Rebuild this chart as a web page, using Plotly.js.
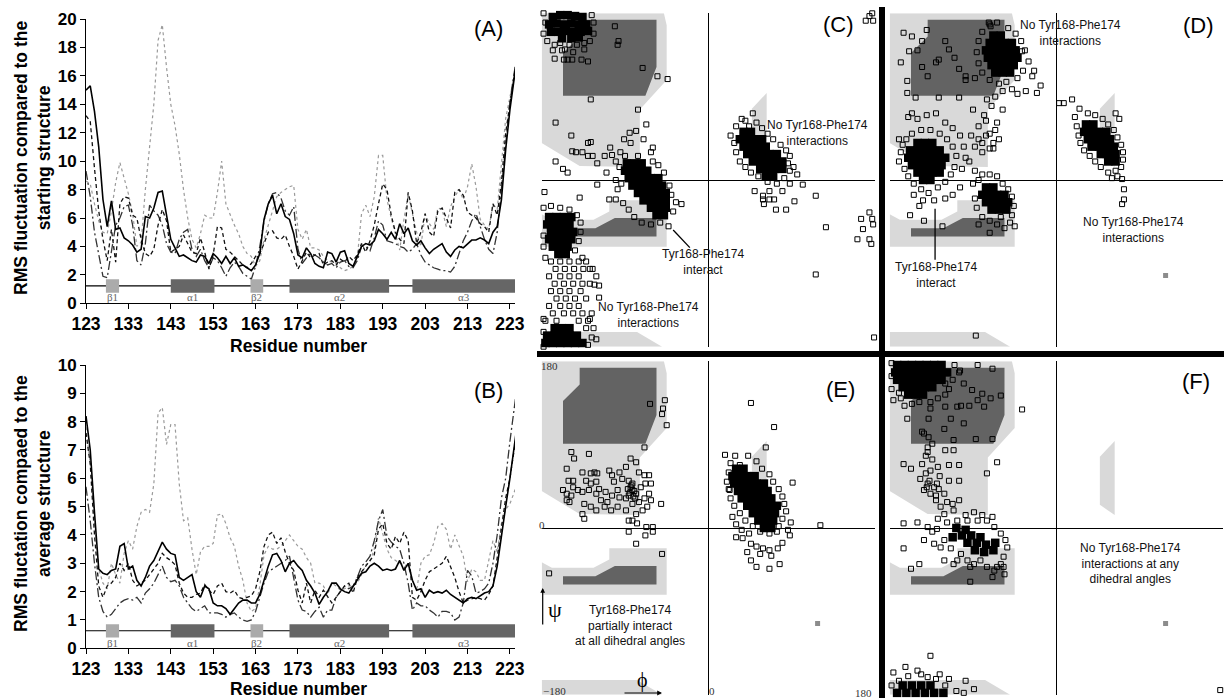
<!DOCTYPE html>
<html><head><meta charset="utf-8">
<script src="https://cdn.plot.ly/plotly-3.0.1.min.js"></script>
<style>html,body{margin:0;padding:0;background:#fff}#chart{width:1224px;height:698px}</style>
</head><body><div id="chart"></div>
<script>
// ---------- Panels A/B : RMS fluctuation per residue ----------
const residues = [123,124,125,126,127,128,129,130,131,132,133,134,135,136,137,138,139,140,141,142,143,144,145,146,147,148,149,150,151,152,153,154,155,156,157,158,159,160,161,162,163,164,165,166,167,168,169,170,171,172,173,174,175,176,177,178,179,180,181,182,183,184,185,186,187,188,189,190,191,192,193,194,195,196,197,198,199,200,201,202,203,204,205,206,207,208,209,210,211,212,213,214,215,216,217,218,219,220,221,222,223,224,225];
const xTicks = [123,133,143,153,163,173,183,193,203,213,223];

const startSolid = [15.0,15.3,13.5,11.0,7.3,5.4,7.2,5.2,5.3,4.6,4.4,4.1,3.6,3.8,6.1,6.0,6.7,7.8,7.9,6.3,4.5,3.9,3.3,3.4,3.2,3.0,2.9,3.4,3.3,2.8,3.5,3.2,2.8,3.3,2.8,3.2,2.6,2.7,2.5,2.3,2.7,3.5,5.9,7.0,7.6,6.3,7.0,6.1,5.9,4.9,3.4,3.2,3.9,3.5,2.8,2.6,2.5,3.6,3.5,2.9,3.6,3.7,2.8,2.6,3.3,4.0,4.2,4.1,4.4,5.2,4.9,4.5,5.0,4.5,5.6,4.9,5.3,4.4,4.1,4.4,3.9,3.5,3.8,4.0,4.2,3.6,3.3,3.75,4.0,3.9,4.2,4.45,4.45,4.6,4.45,4.2,5.0,5.4,7.3,10.8,13.6,16.0,18.0];
const startDashed = [13.2,12.8,9.5,6.5,4.5,3.0,5.2,2.9,7.0,7.5,7.4,6.2,6.0,4.5,3.5,3.3,3.8,5.5,6.6,5.8,3.6,3.8,4.0,4.8,4.2,3.6,3.5,4.6,3.6,2.4,3.4,5.4,5.3,3.8,3.6,3.3,3.0,2.7,2.5,2.8,3.3,3.5,4.2,5.0,5.1,4.6,4.5,4.8,4.0,3.3,2.4,3.0,3.6,3.2,3.4,3.5,2.7,2.9,3.0,2.7,3.1,2.9,3.3,3.0,3.4,4.2,3.6,4.4,5.5,7.0,8.4,8.0,6.2,5.0,4.5,4.2,7.8,6.5,4.2,5.0,6.3,5.0,4.7,6.5,6.7,6.0,5.3,7.8,8.0,7.6,6.4,6.2,6.0,5.6,5.4,5.0,7.0,6.2,8.5,12.0,14.0,16.0,18.0];
const startDashDot = [9.3,7.5,5.0,3.5,1.9,1.8,3.8,5.5,6.0,6.8,6.9,5.5,3.0,2.7,4.2,6.9,6.5,6.2,5.5,4.2,3.6,3.5,4.5,5.0,5.2,3.8,3.3,3.8,3.0,2.5,3.2,3.0,2.5,1.9,2.5,2.9,2.6,2.1,1.9,1.7,2.6,4.0,5.8,7.0,7.7,7.8,7.4,6.5,6.2,6.8,3.8,2.8,3.2,3.5,3.4,3.2,2.9,2.7,2.8,2.5,2.9,3.0,2.6,2.5,3.0,4.0,4.0,3.7,4.6,5.8,5.5,4.4,4.3,4.2,4.0,3.9,3.6,3.8,4.2,3.4,2.9,2.7,2.5,2.4,2.3,2.3,2.2,2.6,3.5,4.4,5.0,5.8,6.3,5.4,4.5,3.8,3.5,5.0,8.0,11.5,14.2,16.2,18.0];
const startDotted = [8.6,8.4,7.0,5.8,5.0,4.9,6.5,8.5,9.9,8.8,7.7,6.3,4.0,4.3,8.0,11.0,14.0,18.5,19.6,16.6,14.0,12.5,10.5,8.0,6.0,4.5,3.9,4.9,6.2,6.0,6.0,7.8,10.0,7.0,6.2,5.5,4.9,4.0,3.5,3.3,2.6,3.0,4.5,5.6,6.5,7.5,7.8,8.0,8.2,8.3,5.2,4.5,5.2,3.9,3.9,3.75,3.3,3.0,2.9,2.8,2.5,2.3,2.4,2.6,3.2,6.3,6.9,6.1,7.5,10.4,10.4,7.3,6.0,4.9,3.75,5.9,7.7,6.3,5.0,4.0,6.3,5.6,5.2,6.7,6.6,5.4,6.8,7.5,8.0,7.3,8.2,9.8,8.2,5.9,5.5,5.2,7.0,6.6,10.0,13.0,14.5,16.0,17.5];

const avgSolid = [8.2,7.0,4.8,2.8,2.65,2.6,2.75,2.8,3.6,3.7,2.8,2.9,2.4,2.2,2.5,2.9,3.1,3.4,3.75,3.5,3.35,3.3,2.5,2.4,2.5,2.6,2.0,1.8,2.2,2.1,1.6,1.5,1.5,1.4,1.2,1.4,1.6,1.7,1.7,1.6,1.6,1.9,2.4,2.9,3.3,3.35,3.1,2.7,3.0,3.1,2.9,2.75,2.4,2.2,1.95,1.55,1.8,2.0,2.3,2.3,2.1,2.0,1.95,2.2,2.4,2.65,2.7,2.9,3.0,2.9,2.75,2.8,2.75,2.8,3.1,2.75,3.0,2.4,2.05,2.1,1.8,2.05,1.95,2.0,1.95,2.05,1.9,1.8,1.7,1.6,1.75,1.8,1.75,1.85,1.95,2.0,2.2,2.9,4.0,5.0,6.0,7.2,8.2];
const avgDashed = [7.6,6.5,4.0,2.2,1.8,2.2,2.3,2.5,3.0,2.75,3.0,2.4,2.2,2.3,2.4,2.6,2.8,3.0,3.35,3.2,3.1,2.95,2.3,1.95,1.8,1.8,1.9,1.95,2.25,2.05,1.9,2.2,2.3,2.0,1.95,2.05,1.8,1.75,1.8,1.85,2.1,2.7,3.6,4.0,4.1,3.7,3.9,3.4,3.0,2.75,2.05,1.6,2.3,1.6,2.05,1.8,2.05,1.8,1.6,1.8,2.0,2.2,2.3,1.95,2.5,2.7,2.9,3.1,3.3,4.2,4.4,3.7,3.5,3.95,3.7,4.1,3.8,1.8,1.7,2.0,2.4,2.7,2.8,2.9,3.0,3.25,2.9,2.5,2.0,1.6,1.7,1.75,1.8,1.75,1.7,1.9,2.2,3.2,4.3,5.3,6.0,7.0,8.0];
const avgDashDot = [5.7,4.5,3.0,1.8,1.3,1.1,1.2,1.4,1.6,1.7,1.75,1.7,1.8,1.6,1.95,2.1,2.3,2.6,2.9,2.5,2.35,2.4,2.2,1.8,1.6,1.4,1.3,1.4,1.5,1.25,1.25,1.25,1.2,1.1,1.2,1.25,1.1,1.0,0.95,1.0,1.3,1.8,2.3,2.7,2.8,2.9,3.0,3.1,3.25,2.4,1.7,1.35,1.3,1.1,1.3,1.45,1.1,1.35,1.35,1.8,2.0,2.2,2.1,2.2,2.5,2.9,3.05,3.25,3.8,4.5,4.9,3.95,3.75,3.6,3.5,3.0,2.3,1.35,1.6,1.5,1.5,1.35,1.25,1.1,1.3,1.3,1.25,1.0,1.1,1.6,2.75,2.55,1.95,2.0,2.1,2.3,3.0,4.0,5.3,6.0,7.3,8.5,9.6];
const avgDotted = [7.8,6.5,4.5,2.8,2.3,2.1,3.0,2.6,2.3,3.35,3.8,3.5,4.3,4.8,4.9,4.8,5.8,8.3,8.5,7.2,7.9,7.9,5.8,4.5,4.6,3.5,2.6,3.4,3.6,3.6,3.7,4.7,4.75,4.4,3.9,3.6,2.9,2.4,1.6,1.3,1.4,2.2,3.3,3.6,3.5,3.5,3.6,3.8,4.0,3.8,3.6,3.5,3.2,3.0,2.3,2.3,2.2,1.9,2.3,2.2,2.05,2.1,2.2,2.2,2.3,2.6,2.95,3.05,3.5,4.6,4.0,3.5,3.2,3.1,3.0,2.95,2.9,2.4,2.05,3.0,3.25,3.3,3.7,4.3,4.4,4.2,3.5,4.0,3.6,3.25,2.35,2.8,2.7,2.4,2.4,3.1,3.8,3.4,4.4,4.9,5.1,5.5,6.0];

// secondary structure elements
const ssLabels = ['\u03b21','\u03b11','\u03b22','\u03b12','\u03b13'];
const ssStart  = [127.7,143.0,161.8,171.0,200.0];
const ssEnd    = [130.8,153.3,164.8,194.5,224.2];
const ssType   = ['sheet','helix','sheet','helix','helix'];

// ---------- Ramachandran panels C-F (phi, psi in degrees) ----------
const light1Phi = [-180,-48,-45,-45,-74,-74,-139,-180];
const light1Psi = [180,180,167,108,76,14,15,40];
const dark1Phi  = [-139,-56,-56,-68,-157,-157,-139];
const dark1Psi  = [173,173,122,91,91,137,155];
const light2Phi = [-180,-169,-124,-107,-107,-45,-45,-180];
const light2Psi = [-37,-43,-43,-34,-22,-22,-72,-72];
const dark2Phi  = [-157,-157,-56,-56,-101,-122];
const dark2Psi  = [-52,-61,-61,-41,-41,-52];
const light3Phi = [-180,-77,-50,-180];
const light3Psi = [-164,-164,-180,-180];
const light4Phi = [47,63,63,47];
const light4Psi = [77,94,14,25];

const cOpen = [[-178,180],[-176,170],[-178,158],[-174,150],[-166,146],[-160,148],[-150,146],[-142,146],[-134,148],[-128,150],[-124,158],[-124,170],[-126,178],[-132,183],[-145,184],[-160,184],[-170,182],[-168,140],[-158,140],[-146,138],[-156,130],[-166,131],[-147,130],[-137,130],[-130,128],[-134,141],[-155,141],[-152,130],
[-97,150],[-98,146],[-101,166],[-116,181],[-71,121],[-55,112],[-44,109],[-127,87],[-76,76],[-165,62],[-67,60],[-148,48],[-130,40],[-127,41],
[-157,12],[-152,8],[-147,31],[-143,30],[-136,30],[-130,26],[-125,26],[-120,18],[-112,26],[-104,27],[-100,20],[-96,14],[-120,-5],[-107,-21],[-100,-21],[-85,51],[-78,53],[-91,44],[-84,40],[-70,44],[-62,30],[-60,35],[-46,-24],[-35,-24],[-29,-26],[-43,-50],[-95,30],[-90,26],[-110,8],[-98,-10],[-92,-25],[-86,-32],[-80,-40],[-72,-46],[-62,-48],[-52,-46],[-40,-16],[-42,-6],[-48,8],[-54,16],[-60,20],[-177,-13],[-139,-19],[-165,20],[-106,35],[-76,26],[-100,0],[-94,-4],[-38,-34],[-50,-30],
[-178,-30],[-170,-28],[-160,-30],[-150,-32],[-142,-38],[-138,-46],[-138,-56],[-140,-66],[-144,-76],[-178,-60],[-178,-72],[-176,-84],[-136,-84],[-125,-96],[-121,-104],[-118,-114],[-118,-127],[-123,-113],
[-170,-88],[-160,-88],[-150,-88],[-140,-88],[-132,-88],[-165,-96],[-155,-96],[-145,-96],[-135,-96],[-128,-96],[-172,-104],[-160,-104],[-150,-104],[-140,-104],[-166,-112],[-156,-112],[-146,-112],[-136,-112],[-128,-112],[-170,-120],[-160,-120],[-150,-120],[-138,-120],[-164,-128],[-154,-128],[-144,-128],[-132,-128],[-172,-136],[-160,-136],[-150,-136],[-140,-136],[-168,-144],[-156,-144],[-146,-144],[-136,-144],[-126,-144],[-176,-152],[-164,-152],[-140,-152],[-130,-152],
[-178,-180],[-130,-178],[-126,-170],[-132,-160],[-178,-150],[-121,-172],[-124,-160],[-178,-164],[-128,-150],
[24,48],[30,58],[44,58],[52,62],[40,64],[58,56],[64,50],[70,44],[78,38],[84,32],[88,26],[86,18],[88,10],[82,2],[74,-4],[64,-2],[54,4],[46,8],[40,14],[34,20],[30,30],[28,40],[59,-17],[59,-21],[66,-21],[71,-21],[73,-32],[84,-32],[93,-23],[102,-5],[116,-17],[60,-26],[50,-12],[66,-12],[80,-12],[88,-4],[96,6],[48,72],[36,66],[92,14],
[174,-35],[165,-42],[177,-42],[167,-53],[161,-64],[174,-64],[176,-69],[178,-48],[127,-51],[116,-102],[179,-170],[174,177],[177,180],[170,172],[178,172]];
const cCore = [[-168,176],[-160,178],[-152,178],[-144,177],[-136,176],[-172,168],[-164,169],[-156,168],[-148,169],[-140,168],[-132,168],[-170,160],[-162,160],[-154,161],[-146,160],[-138,160],[-130,161],[-158,153],[-148,153],[-140,154],
[-88,18],[-80,18],[-72,18],[-90,10],[-82,10],[-74,10],[-66,10],[-86,2],[-78,2],[-70,2],[-62,2],[-54,2],[-82,-6],[-74,-6],[-66,-6],[-58,-6],[-50,-6],[-76,-14],[-68,-14],[-60,-14],[-52,-14],[-46,-14],[-70,-22],[-62,-22],[-54,-22],[-46,-22],[-62,-30],[-54,-30],[-46,-30],[-56,-38],[-48,-38],
[-172,-40],[-164,-40],[-156,-40],[-148,-40],[-174,-48],[-166,-48],[-158,-48],[-150,-48],[-170,-56],[-162,-56],[-154,-56],[-146,-56],[-172,-64],[-164,-64],[-156,-64],[-148,-64],[-168,-72],[-160,-72],[-152,-72],[-162,-80],[-154,-80],
[-166,-160],[-158,-160],[-150,-160],[-174,-168],[-166,-168],[-158,-168],[-150,-168],[-142,-168],[-176,-176],[-168,-176],[-160,-176],[-152,-176],[-144,-176],[-136,-176],
[38,52],[46,52],[34,44],[42,44],[50,44],[58,44],[38,36],[46,36],[54,36],[62,36],[42,28],[50,28],[58,28],[66,28],[74,28],[48,20],[56,20],[64,20],[72,20],[80,20],[56,12],[64,12],[72,12],[80,12],[62,4],[70,4]];

const dOpen = [[-165,159],[-156,155],[-145,150],[-159,139],[-168,127],[-161,107],[-161,94],[-152,89],[-127,89],[-105,89],[-139,112],[-127,130],[-130,127],[-116,141],[-105,120],[-98,112],[-98,108],[-73,170],[-71,166],[-37,139],[-24,118],[-17,102],[-21,94],[-42,93],[-33,96],[-145,122],[-120,150],[-150,140],[-140,162],[-110,132],[-88,110],
[-80,160],[-72,168],[-64,170],[-52,164],[-44,158],[-38,150],[-34,140],[-30,128],[-36,118],[-42,110],[-54,106],[-62,104],[-72,108],[-80,116],[-84,126],[-86,138],[-84,150],[-26,112],[-48,98],[-58,96],[-66,90],[-75,87],[-70,80],[-78,70],[-64,62],[-84,58],[-72,50],[-62,44],[-80,40],[-68,34],[-90,76],[-58,76],[-76,64],[-66,54],
[-168,30],[-170,20],[-164,12],[-160,4],[-154,-4],[-146,-10],[-138,-14],[-128,-8],[-120,-2],[-114,6],[-110,14],[-108,26],[-112,36],[-118,44],[-126,50],[-136,54],[-146,54],[-156,50],[-162,44],[-166,38],[-150,66],[-140,70],[-130,72],[-156,72],[-120,62],[-112,56],[-104,48],[-100,36],[-98,24],[-102,12],[-104,-8],[-112,-16],[-120,-20],[-132,-22],[-144,-22],[-154,-16],[-143,-44],[-123,-50],[-158,-38],[-148,-28],[-160,68],[-170,44],
[-92,48],[-84,44],[-76,48],[-68,40],[-88,36],[-80,30],[-72,34],[-94,20],[-88,10],[-90,-4],
[-84,0],[-80,6],[-72,6],[-64,4],[-58,-4],[-52,-10],[-48,-18],[-46,-28],[-48,-38],[-50,-46],[-56,-52],[-64,-48],[-72,-44],[-80,-40],[-86,-30],[-88,-20],[-72,-57],[-45,-50],[-60,-40],[-84,-48],
[3,83],[8,83],[17,87],[25,77],[20,68],[22,58],[24,48],[26,40],[30,32],[36,26],[42,20],[48,14],[56,8],[64,10],[70,14],[72,22],[72,30],[70,38],[66,46],[62,54],[56,60],[50,66],[42,70],[34,72],[64,72],[68,66],[71,1],[73,-10],[73,-21],[71,-26],[66,4],[60,2],
[-87,-168]];
const dCore = [[-68,156],[-60,156],[-72,148],[-64,148],[-56,148],[-48,148],[-76,140],[-68,140],[-60,140],[-52,140],[-44,140],[-74,132],[-66,132],[-58,132],[-50,132],[-42,132],[-70,124],[-62,124],[-54,124],[-46,124],[-66,116],[-58,116],[-50,116],
[-150,40],[-142,40],[-134,40],[-158,32],[-150,32],[-142,32],[-134,32],[-126,32],[-160,24],[-152,24],[-144,24],[-136,24],[-128,24],[-120,24],[-156,16],[-148,16],[-140,16],[-132,16],[-124,16],[-150,8],[-142,8],[-134,8],[-126,8],[-144,0],[-136,0],
[-76,-8],[-68,-8],[-80,-16],[-72,-16],[-64,-16],[-56,-16],[-76,-24],[-68,-24],[-60,-24],[-52,-24],[-70,-32],[-62,-32],[-54,-32],
[32,60],[40,60],[30,52],[38,52],[46,52],[54,52],[34,44],[42,44],[50,44],[58,44],[38,36],[46,36],[54,36],[62,36],[48,28],[56,28],[64,28],[56,20],[64,20]];

const eOpen = [[-148,82],[-145,75],[-129,80],[-153,64],[-136,60],[-123,60],[-120,59],[-151,51],[-146,51],[-157,41],[-153,37],[-148,35],[-141,41],[-136,39],[-132,51],[-127,48],[-121,50],[-127,59],[-107,62],[-104,57],[-102,50],[-96,60],[-93,53],[-89,66],[-84,75],[-78,71],[-75,60],[-69,57],[-64,57],[-62,48],[-68,48],[-73,44],[-86,51],[-82,48],[-82,41],[-78,37],[-86,35],[-89,32],[-82,26],[-75,28],[-69,32],[-64,37],[-62,30],[-66,23],[-71,19],[-78,15],[-82,8],[-77,5],[-67,1],[-60,1],[-60,-4],[-68,-8],[-86,-4],[-78,-17],[-51,26],[-129,41],[-121,37],[-116,30],[-109,28],[-104,35],[-96,33],[-98,41],[-111,39],[-118,42],[-134,26],[-127,23],[-121,19],[-112,23],[-105,19],[-98,23],[-89,19],[-136,15],[-134,10],[-153,30],[-150,28],[-146,44],[-63,134],[-47,138],[-49,129],[-50,123],[-45,111],[-69,87],[-50,-28],[-172,-49],[-86,8],[-84,44],[-80,40],[-85,38],[-81,34],[-87,42],[-83,46],[-79,32],
[46,135],[71,109],[62,87],[18,79],[29,78],[43,78],[52,72],[58,64],[66,58],[70,50],[76,42],[80,34],[82,26],[84,18],[80,10],[76,2],[74,-4],[66,-6],[56,-4],[48,2],[40,8],[34,16],[28,24],[24,32],[22,42],[20,50],[22,60],[24,70],[91,49],[121,3],[89,6],[30,-10],[37,-11],[46,-17],[52,-20],[59,-22],[66,-24],[75,-22],[80,-16],[46,-35],[52,-42],[66,-44],[77,-39],[68,-30],[56,-28],[42,-26],[86,-2],[88,-8],[36,-2],[44,-6],[30,4],[26,12],[34,68],[23,41]];
const eCore = [[30,64],[38,64],[26,56],[34,56],[42,56],[50,56],[28,48],[36,48],[44,48],[52,48],[60,48],[32,40],[40,40],[48,40],[56,40],[64,40],[36,32],[44,32],[52,32],[60,32],[68,32],[42,24],[50,24],[58,24],[66,24],[74,24],[48,16],[56,16],[64,16],[72,16],[54,8],[62,8],[70,8],[60,0],[68,0]];

const fOpen = [[-178,178],[-178,164],[-178,150],[-170,146],[-176,138],[-168,140],[-110,176],[-104,170],[-112,160],[-116,150],[-120,144],[-128,140],[-136,136],[-148,136],[-156,134],[-164,132],[-116,184],[-100,181],
[-85,176],[-69,172],[-105,168],[-120,156],[-100,156],[-91,149],[-80,145],[-71,140],[-60,143],[-85,138],[-103,132],[-94,132],[-78,131],[-107,131],[-120,131],[-136,129],[-138,118],[-114,118],[-100,113],[-121,107],[-143,102],[-111,95],[-87,96],[-69,96],[-37,128],[-64,71],[-75,59],[-161,118],
[-145,104],[-139,87],[-120,84],[-111,84],[-165,69],[-157,64],[-145,69],[-136,62],[-116,68],[-105,68],[-147,53],[-139,48],[-129,48],[-116,51],[-105,51],[-143,41],[-136,37],[-121,37],[-130,30],[-125,23],[-105,30],[-121,15],[-111,19],[-89,17],[-69,12],[-141,59],[-137,51],[-132,44],[-127,42],[-139,82],[-141,78],[-134,91],[-138,98],[-130,35],[-118,28],[-112,26],[-134,74],[-128,66],[-140,44],[-126,56],
[-165,5],[-150,6],[-165,-22],[-148,-39],[-157,-44],[-121,-35],[-107,-35],[-93,-58],[-139,1],[-134,-4],[-129,-1],[-143,-13],[-132,-17],[-121,-13],[-125,-21],[-114,-22],[-103,-28],[-96,-35],[-89,-39],[-82,-35],[-75,-42],[-67,-46],[-60,-39],[-57,-31],[-53,-21],[-55,-13],[-60,-6],[-67,1],[-75,8],[-85,8],[-96,8],[-107,8],[-118,6],[-69,-53],[-64,-42],[-57,-42],[-93,-42],[-111,-39],[-128,10],[-98,14],[-80,14],[-56,-50],
[-136,-138],[-163,-150],[-150,-154],[-139,-161],[-130,-163],[-116,-163],[-98,-165],[-89,-174],[-170,-165],[-178,-170],[-160,-160],[-120,-170],[-108,-176],[-100,-178],[-146,-158],[-176,-156],[-126,-158],
[177,-175]];
const fCore = [[-172,176],[-164,176],[-156,176],[-148,176],[-140,176],[-132,176],[-124,176],[-174,168],[-166,168],[-158,168],[-150,168],[-142,168],[-134,168],[-126,168],[-118,168],[-172,160],[-164,160],[-156,160],[-148,160],[-140,160],[-132,160],[-124,160],[-166,152],[-158,152],[-150,152],[-142,152],[-134,152],[-160,144],[-152,144],[-144,144],
[-108,0],[-98,-2],[-112,-10],[-102,-8],[-92,-8],[-82,-10],[-96,-16],[-86,-16],[-76,-18],[-66,-16],[-88,-24],[-78,-26],[-68,-24],
[-166,-170],[-156,-170],[-146,-170],[-136,-170],[-172,-178],[-162,-178],[-152,-178],[-142,-178],[-132,-178],[-122,-178]];
const refMark = [[118,-103]];

// ---------- build ----------
const W = 1224, H = 698;
const traces = [];

function lineTrace(y, xa, ya, style){
  return {type:'scatter', mode:'lines', x:residues, y:y, xaxis:xa, yaxis:ya, line:style, hoverinfo:'skip'};
}
const stDot = {color:'#9a9a9a', width:1.2, dash:'dot'};
const stDD  = {color:'#333', width:1.3, dash:'9px,3px,2px,3px'};
const stDash= {color:'#111', width:1.3, dash:'4px,3px'};
const stSol = {color:'#000', width:1.6, dash:'solid'};
[[startDotted,stDot],[startDashDot,stDD],[startDashed,stDash],[startSolid,stSol]].forEach(([d,s])=>traces.push(lineTrace(d,'x','y',s)));
[[avgDotted,stDot],[avgDashDot,stDD],[avgDashed,stDash],[avgSolid,stSol]].forEach(([d,s])=>traces.push(lineTrace(d,'x2','y2',s)));

function region(px, py, col, xa, ya){
  return {type:'scatter', mode:'lines', x:px, y:py, fill:'toself', fillcolor:col, line:{width:0, color:col}, xaxis:xa, yaxis:ya, hoverinfo:'skip'};
}
const LIGHT = '#d9d9d9', DARK = '#636363';
const panels = [
  {n:'3', open:cOpen, core:cCore, mark:[]},
  {n:'4', open:dOpen, core:dCore, mark:refMark},
  {n:'5', open:eOpen, core:eCore, mark:refMark},
  {n:'6', open:fOpen, core:fCore, mark:refMark}
];
panels.forEach(p=>{
  const xa='x'+p.n, ya='y'+p.n;
  traces.push(region(light1Phi,light1Psi,LIGHT,xa,ya));
  traces.push(region(light2Phi,light2Psi,LIGHT,xa,ya));
  traces.push(region(light3Phi,light3Psi,LIGHT,xa,ya));
  traces.push(region(light4Phi,light4Psi,LIGHT,xa,ya));
  traces.push(region(dark1Phi,dark1Psi,DARK,xa,ya));
  traces.push(region(dark2Phi,dark2Psi,DARK,xa,ya));
  traces.push({type:'scatter', mode:'markers', x:p.core.map(d=>d[0]), y:p.core.map(d=>d[1]), xaxis:xa, yaxis:ya, cliponaxis:false,
    marker:{symbol:'square', size:8.5, color:'#000', line:{width:0}}, hoverinfo:'skip'});
  traces.push({type:'scatter', mode:'markers', x:p.open.map(d=>d[0]), y:p.open.map(d=>d[1]), xaxis:xa, yaxis:ya, cliponaxis:false,
    marker:{symbol:'square-open', size:5, color:'#000', line:{width:1, color:'#000'}}, hoverinfo:'skip'});
  if(p.mark.length) traces.push({type:'scatter', mode:'markers', x:p.mark.map(d=>d[0]), y:p.mark.map(d=>d[1]), xaxis:xa, yaxis:ya,
    marker:{symbol:'square', size:5, color:'#8c8c8c', line:{width:0}}, hoverinfo:'skip'});
});

const FONT = 'Liberation Sans, Arial, sans-serif';
const SERIF = 'Liberation Serif, Times New Roman, serif';
function lineAxis(domain, range, anchor, extra){
  return Object.assign({domain:domain, range:range, anchor:anchor, showline:true, linecolor:'#000', linewidth:1,
    ticks:'outside', ticklen:5, tickcolor:'#000', tickwidth:1, showgrid:false, zeroline:false, fixedrange:true}, extra);
}
const xTickFont = {family:FONT, size:17.5, weight:'bold', color:'#000'};
const yTickFont = {family:FONT, size:17, weight:'bold', color:'#000'};
function ramaAxis(domain, anchor){
  return {domain:domain, range:[-180,180], anchor:anchor, showline:false, showgrid:false, showticklabels:false, ticks:'',
    zeroline:true, zerolinecolor:'#000', zerolinewidth:1, fixedrange:true};
}
const xdL = [86/W, 515/W];
const xdC = [541.7/W, 875/W], xdD = [889.7/W, 1223/W];
const ydTop = [1-346.7/H, 1-13.3/H], ydBot = [1-694.7/H, 1-361.3/H];

const layout = {
  width:W, height:H, margin:{l:0,r:0,t:0,b:0}, paper_bgcolor:'#fff', plot_bgcolor:'rgba(0,0,0,0)', showlegend:false,
  font:{family:FONT, color:'#000'},
  xaxis: lineAxis(xdL, [123,224.2], 'y', {tickvals:xTicks, tickfont:xTickFont}),
  yaxis: lineAxis([1-303.3/H, 1-19/H], [0,20], 'x', {dtick:2, tickfont:yTickFont}),
  xaxis2: lineAxis(xdL, [123,224.2], 'y2', {tickvals:xTicks, tickfont:xTickFont}),
  yaxis2: lineAxis([1-648.3/H, 1-365/H], [0,10], 'x2', {dtick:1, tickfont:yTickFont}),
  xaxis3: ramaAxis(xdC,'y3'), yaxis3: ramaAxis(ydTop,'x3'),
  xaxis4: ramaAxis(xdD,'y4'), yaxis4: ramaAxis(ydTop,'x4'),
  xaxis5: ramaAxis(xdC,'y5'), yaxis5: ramaAxis(ydBot,'x5'),
  xaxis6: ramaAxis(xdD,'y6'), yaxis6: ramaAxis(ydBot,'x6'),
  shapes: [], annotations: []
};

// secondary structure bars
[['x','y',1.22,0.75,1.69,0.45],['x2','y2',0.62,0.38,0.85,0.19]].forEach(([xa,ya,yl,y0,y1,yt])=>{
  layout.shapes.push({type:'line', xref:xa, yref:ya, x0:123, x1:224.2, y0:yl, y1:yl, line:{color:'#000', width:1.2}});
  ssStart.forEach((s,i)=>{
    layout.shapes.push({type:'rect', xref:xa, yref:ya, x0:s, x1:ssEnd[i], y0:y0, y1:y1,
      fillcolor: ssType[i]==='helix' ? '#666666' : '#ababab', line:{width:0}});
    layout.annotations.push({xref:xa, yref:ya, x:(s+ssEnd[i])/2, y:yt, text:ssLabels[i], showarrow:false,
      font:{family:SERIF, size:11, color:'#666'}});
  });
});

// separators
layout.shapes.push({type:'rect', xref:'paper', yref:'paper', x0:879/W, x1:885/W, y0:0, y1:1-7/H, fillcolor:'#000', line:{width:0}, layer:'above'});
layout.shapes.push({type:'rect', xref:'paper', yref:'paper', x0:537/W, x1:1, y0:1-357/H, y1:1-351/H, fillcolor:'#000', line:{width:0}, layer:'above'});
// leader lines
layout.shapes.push({type:'line', xref:'x3', yref:'y3', x0:-38, y0:-54, x1:-20, y1:-73, line:{color:'#000', width:1.3}});
layout.shapes.push({type:'line', xref:'x4', yref:'y4', x0:-131, y0:-31, x1:-131, y1:-86, line:{color:'#000', width:1.3}});

function ann(text, px, py, o){
  return Object.assign({text:text, x:px/W, y:1-py/H, xref:'paper', yref:'paper', showarrow:false, xanchor:'center', yanchor:'middle',
    font:{family:FONT, size:12, color:'#111'}}, o||{});
}
const big = {font:{family:FONT, size:22, color:'#000'}};
const bold = {family:FONT, size:17.5, weight:'bold', color:'#000'};
layout.annotations.push(
  ann('(A)', 488, 28, big), ann('(B)', 488, 390, big),
  ann('(C)', 838, 24, big), ann('(D)', 1198, 25, big), ann('(E)', 840, 389, big), ann('(F)', 1196, 381, big),
  ann('RMS fluctuation compared to the<br>starting structure', 32, 158, {textangle:-90, font:bold}),
  ann('RMS fluctation compaed to the<br>average structure', 32, 504, {textangle:-90, font:bold}),
  ann('Residue number', 298, 346, {font:bold}),
  ann('Residue number', 298, 689, {font:bold}),
  ann('No Tyr168-Phe174<br>interactions', 817, 133),
  ann('Tyr168-Phe174<br>interact', 703, 262),
  ann('No Tyr168-Phe174<br>interactions', 648, 315),
  ann('No Tyr168-Phe174<br>interactions', 1070, 33),
  ann('No Tyr168-Phe174<br>interactions', 1133, 230),
  ann('Tyr168-Phe174<br>interact', 936, 275),
  ann('Tyr168-Phe174<br>partially interact<br>at all dihedral angles', 630, 625),
  ann('No Tyr168-Phe174<br>interactions at any<br>dihedral angles', 1130, 563),
  ann('\u03c8', 555, 609, {font:{family:SERIF, size:22, color:'#000'}}),
  ann('\u03d5', 642, 680, {font:{family:SERIF, size:20, color:'#000'}}),
  ann('180', 549, 366, {font:{family:SERIF, size:11, color:'#333'}}),
  ann('0', 542, 525, {font:{family:SERIF, size:11, color:'#333'}}),
  ann('\u2212180', 554, 691, {font:{family:SERIF, size:11, color:'#333'}}),
  ann('0', 712, 691, {font:{family:SERIF, size:11, color:'#333'}}),
  ann('180', 863, 693, {font:{family:SERIF, size:11, color:'#333'}}),
  {text:'', x:542.7/W, y:1-588/H, xref:'paper', yref:'paper', showarrow:true, arrowhead:2, arrowsize:0.8, arrowwidth:1.2, arrowcolor:'#000', ax:0, ay:38},
  {text:'', x:662/W, y:1-693/H, xref:'paper', yref:'paper', showarrow:true, arrowhead:2, arrowsize:0.8, arrowwidth:1.2, arrowcolor:'#000', ax:-39, ay:0}
);

Plotly.newPlot('chart', traces, layout, {staticPlot:true, displayModeBar:false});
</script>
</body></html>
